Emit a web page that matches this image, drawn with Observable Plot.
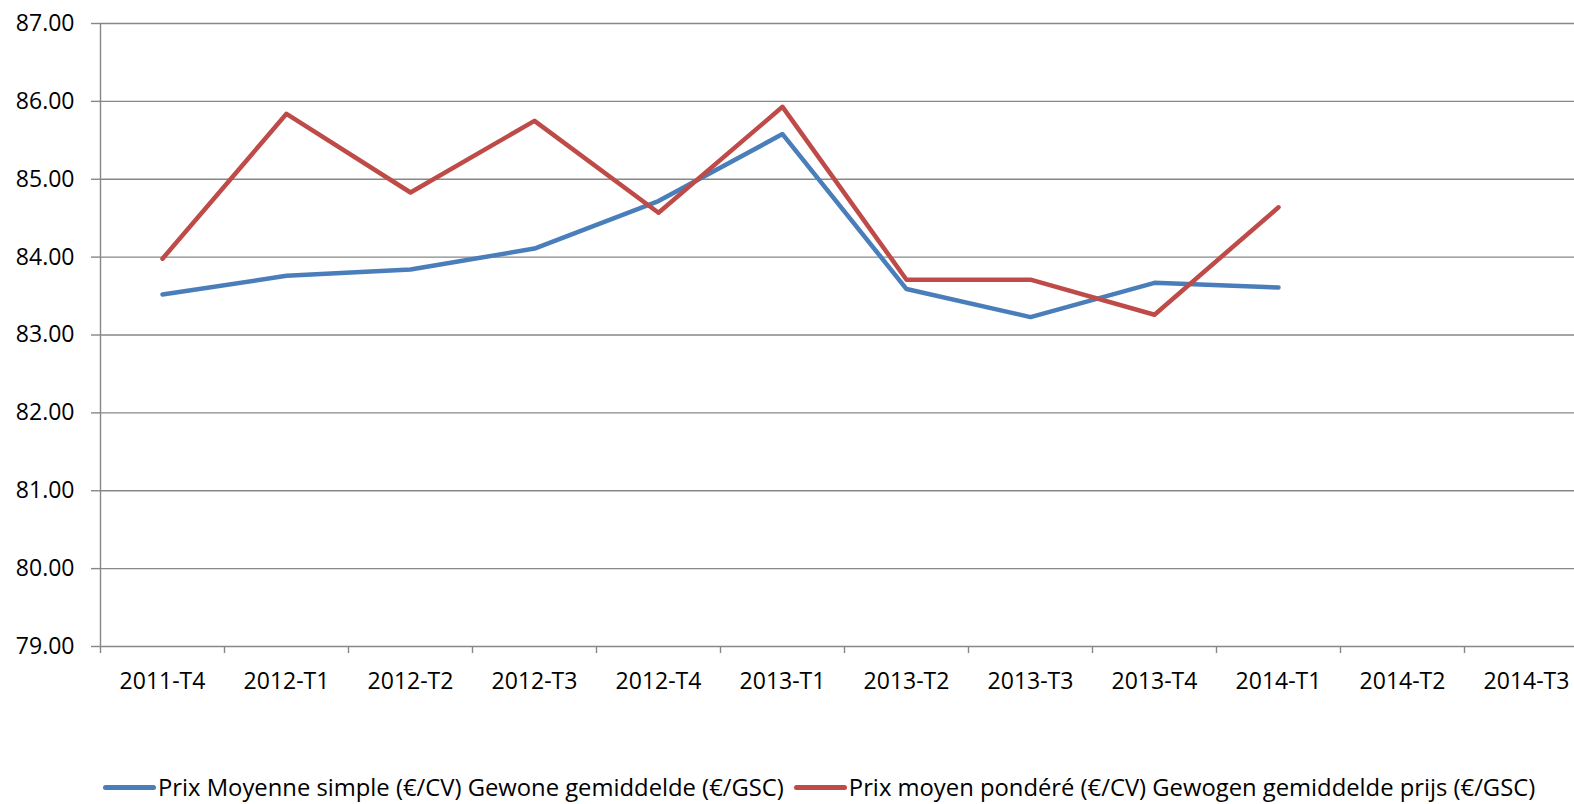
<!DOCTYPE html>
<html>
<head>
<meta charset="utf-8">
<script src="https://cdn.jsdelivr.net/npm/d3@7"></script>
<script src="https://cdn.jsdelivr.net/npm/@observablehq/plot@0.6"></script>
<style>
  html, body { margin: 0; padding: 0; background: #fff; overflow: hidden; }
  body { width: 1574px; height: 804px; font-family: "Open Sans", sans-serif; }
  #chart { width: 1588px; height: 720px; overflow: visible; }
  #chart svg { max-width: none !important; display: block; }
  #legend { display: flex; align-items: center; margin-left: 103px; margin-top: 52px; height: 30px; font-size: 23.8px; color: #000; white-space: nowrap; }
  .sw { display: inline-block; width: 53px; height: 5px; border-radius: 3px; margin-right: 2px; }
</style>
</head>
<body>
<div id="chart"></div>
<div id="legend"></div>
<script>
const quarters = ["2011-T4","2012-T1","2012-T2","2012-T3","2012-T4","2013-T1","2013-T2","2013-T3","2013-T4","2014-T1","2014-T2","2014-T3"];
const simpleAvg = [83.52, 83.76, 83.84, 84.11, 84.72, 85.58, 83.59, 83.23, 83.67, 83.61];
const weightedAvg = [83.98, 85.84, 84.83, 85.75, 84.57, 85.93, 83.71, 83.71, 83.26, 84.64];
const yTicks = [79, 80, 81, 82, 83, 84, 85, 86, 87];
const seriesNames = [
  "Prix Moyenne simple (€/CV) Gewone gemiddelde (€/GSC)",
  "Prix moyen pondéré (€/CV) Gewogen gemiddelde prijs (€/GSC)"
];
const colors = ["#4A7EBB", "#BE4B48"];

const blueData = simpleAvg.map((v, i) => ({i: i + 0.5, v}));
const redData = weightedAvg.map((v, i) => ({i: i + 0.5, v}));

const H = 720;
const plot = Plot.plot({
  width: 1588,
  height: H,
  marginLeft: 100,
  marginRight: 0,
  marginTop: 23,
  marginBottom: H - 646,
  style: {fontFamily: "'Open Sans', sans-serif", fontSize: "23px", color: "#000", background: "#fff", overflow: "visible", maxWidth: "none"},
  x: {domain: [0, quarters.length], label: null},
  y: {domain: [79, 87], label: null},
  marks: [
    Plot.ruleY(yTicks, {stroke: "#878787", strokeWidth: 1.4}),
    Plot.ruleX([0], {stroke: "#878787", strokeWidth: 1.4}),
    Plot.axisX({ticks: d3.range(0, quarters.length + 1), tickSize: 7, stroke: "#878787", strokeWidth: 1.4, strokeOpacity: 1, tickFormat: () => "", label: null}),
    Plot.axisX({ticks: quarters.map((q, k) => k + 0.5), tickSize: 0, tickPadding: 26, tickFormat: d => quarters[Math.round(d - 0.5)], fill: "#000", label: null}),
    Plot.axisY({ticks: yTicks, tickSize: 9, tickPadding: 17, tickFormat: d => d.toFixed(2), stroke: "#878787", strokeWidth: 1.4, strokeOpacity: 1, fill: "#000", label: null}),
    Plot.lineY(blueData, {x: "i", y: "v", stroke: colors[0], strokeWidth: 4.5, strokeLinecap: "round", strokeLinejoin: "round"}),
    Plot.lineY(redData, {x: "i", y: "v", stroke: colors[1], strokeWidth: 4.5, strokeLinecap: "round", strokeLinejoin: "round"})
  ]
});
document.getElementById("chart").appendChild(plot);

const lg = document.getElementById("legend");
seriesNames.forEach((name, k) => {
  const item = document.createElement("span");
  item.style.display = "inline-flex";
  item.style.alignItems = "center";
  item.style.marginRight = "10px";
  const sw = document.createElement("span");
  sw.className = "sw";
  sw.style.background = colors[k];
  item.appendChild(sw);
  const t = document.createElement("span");
  t.textContent = name;
  item.appendChild(t);
  lg.appendChild(item);
});
</script>
</body>
</html>
